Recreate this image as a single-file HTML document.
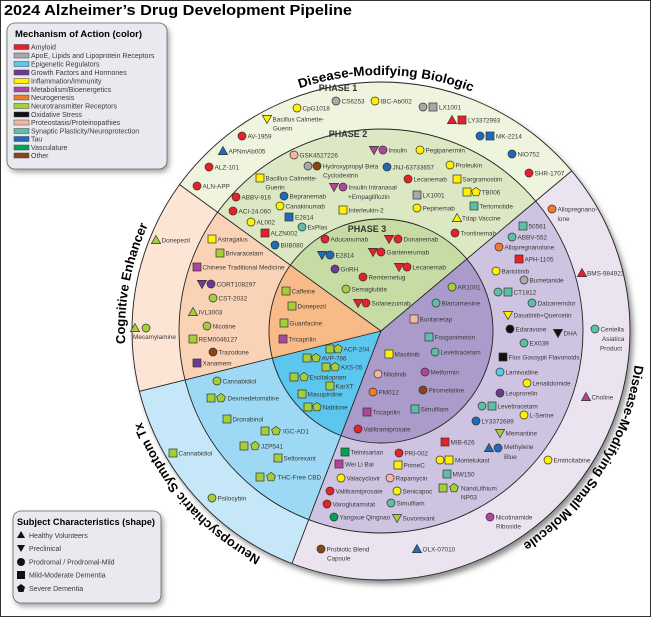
<!DOCTYPE html>
<html><head><meta charset="utf-8"><style>
html,body{margin:0;padding:0;background:#fff}
svg{display:block}
.l{font-family:"Liberation Sans",sans-serif;font-size:6.4px;fill:#3a3a3a}
.h{font-family:"Liberation Sans",sans-serif;font-weight:bold;fill:#000}
.ph{font-family:"Liberation Sans",sans-serif;font-weight:bold;font-size:9px;fill:#333}
</style></head><body>
<svg width="651" height="617" viewBox="0 0 651 617" xmlns="http://www.w3.org/2000/svg">
<defs>
<circle id="c" r="4" stroke="#333" stroke-width=".7"/>
<rect id="s" x="-4" y="-4" width="8" height="8" stroke="#333" stroke-width=".7"/>
<path id="t" d="M0,-4.5L4.6,3.6L-4.6,3.6Z" stroke="#333" stroke-width=".7"/>
<path id="v" d="M-4.6,-3.6L4.6,-3.6L0,4.5Z" stroke="#333" stroke-width=".7"/>
<path id="p" d="M0,-4.6L4.4,-1.4L2.7,3.8L-2.7,3.8L-4.4,-1.4Z" stroke="#333" stroke-width=".7"/>
<filter id="sh" x="-10%" y="-10%" width="120%" height="120%"><feGaussianBlur stdDeviation="3"/></filter>
<path id="arc" d="M637,331 A256,256 0 1 1 125,331 A256,256 0 1 1 637,331"/>
</defs>
<rect x="0.5" y="0.5" width="650" height="616" fill="#fff" stroke="#333"/>
<text class="h" x="4" y="15" font-size="15" textLength="348" lengthAdjust="spacingAndGlyphs">2024 Alzheimer’s Drug Development Pipeline</text>

<circle cx="384" cy="335" r="249" fill="#888" filter="url(#sh)"/>
<!-- phase 1 -->
<path d="M381,331L179.6,184.6A249,249 0 0 1 571.7,170.9Z" fill="#eef4dd"/>
<path d="M381,331L571.7,170.9A249,249 0 0 1 291.9,563.6Z" fill="#ebe4f0"/>
<path d="M381,331L291.9,563.6A249,249 0 0 1 139.5,391.3Z" fill="#c5e7f7"/>
<path d="M381,331L139.5,391.3A249,249 0 0 1 179.6,184.6Z" fill="#fde5d5"/>
<!-- phase 2 -->
<path d="M381,331L217.6,212.2A202,202 0 0 1 535.7,201.1Z" fill="#dce8c4"/>
<path d="M381,331L535.7,201.1A202,202 0 0 1 308.7,519.7Z" fill="#cec3e0"/>
<path d="M381,331L308.7,519.7A202,202 0 0 1 185,379.9Z" fill="#9dd9f4"/>
<path d="M381,331L185,379.9A202,202 0 0 1 217.6,212.2Z" fill="#fad2b6"/>
<!-- phase 3 -->
<path d="M381,331L290.4,265.1A112,112 0 0 1 466.8,259Z" fill="#c6dca4"/>
<path d="M381,331L466.8,259A112,112 0 0 1 340.9,435.6Z" fill="#ab9bcb"/>
<path d="M381,331L340.9,435.6A112,112 0 0 1 272.4,358.1Z" fill="#5bc6ee"/>
<path d="M381,331L272.4,358.1A112,112 0 0 1 290.4,265.1Z" fill="#f8bb88"/>
<g fill="none" stroke="#222" stroke-width=".9">
<circle cx="381" cy="331" r="249"/><circle cx="381" cy="331" r="202"/><circle cx="381" cy="331" r="112"/>
<path d="M381,331L179.6,184.6M381,331L571.7,170.9M381,331L291.9,563.6M381,331L139.5,391.3"/>
</g>

<g class="h" font-size="13">
<text><textPath href="#arc" startOffset="1211" text-anchor="middle" textLength="176" lengthAdjust="spacingAndGlyphs">Disease-Modifying Biologic</textPath></text>
<text><textPath href="#arc" startOffset="852" text-anchor="middle" textLength="122" lengthAdjust="spacingAndGlyphs">Cognitive Enhancer</textPath></text>
<text><textPath href="#arc" startOffset="619" text-anchor="middle" textLength="184" lengthAdjust="spacingAndGlyphs">Neuropsychiatric Symptom Tx</textPath></text>
<text><textPath href="#arc" startOffset="143" text-anchor="middle" textLength="218" lengthAdjust="spacingAndGlyphs">Disease-Modifying Small Molecule</textPath></text>
</g>
<text class="ph" x="338" y="91" text-anchor="middle">PHASE 1</text>
<text class="ph" x="348" y="137" text-anchor="middle">PHASE 2</text>
<text class="ph" x="367" y="232" text-anchor="middle">PHASE 3</text>

<!-- Biologic phase 1 -->
<use href="#c" x="297" y="108" fill="#fff200"/><text class="l" x="302.5" y="110.3">CpG1018</text>
<use href="#v" x="267" y="119" fill="#fff200"/><text class="l" x="272.5" y="121.3">Bacillus Calmette-</text><text class="l" x="273" y="130.3">Guerin</text>
<use href="#c" x="242" y="136" fill="#e8202a"/><text class="l" x="247.5" y="138.3">AV-1959</text>
<use href="#t" x="223" y="151" fill="#1e6bb8"/><text class="l" x="228.5" y="153.3">APNmAb005</text>
<use href="#c" x="209" y="167" fill="#e8202a"/><text class="l" x="214.5" y="169.3">ALZ-101</text>
<use href="#c" x="197" y="186" fill="#e8202a"/><text class="l" x="202.5" y="188.3">ALN-APP</text>
<use href="#c" x="336" y="101" fill="#a7a9ac"/><text class="l" x="341.5" y="103.3">CS6253</text>
<use href="#c" x="375" y="101" fill="#fff200"/><text class="l" x="380.5" y="103.3">IBC-Ab002</text>
<use href="#c" x="423" y="107" fill="#a7a9ac"/><use href="#s" x="433" y="107" fill="#a7a9ac"/><text class="l" x="439" y="109.3">LX1001</text>
<use href="#t" x="452" y="120" fill="#e8202a"/><use href="#s" x="462" y="120" fill="#e8202a"/><text class="l" x="468" y="122.3">LY3372993</text>
<use href="#c" x="480" y="136" fill="#1e6bb8"/><use href="#s" x="490" y="136" fill="#1e6bb8"/><text class="l" x="496" y="138.3">MK-2214</text>
<use href="#c" x="512" y="154" fill="#1e6bb8"/><text class="l" x="517.5" y="156.3">NIO752</text>
<use href="#c" x="529" y="173" fill="#e8202a"/><text class="l" x="534.5" y="175.3">SHR-1707</text>

<!-- Biologic phase 2 -->
<use href="#c" x="294" y="155" fill="#f5b7a5"/><text class="l" x="299.5" y="157.3">GSK4527226</text>
<use href="#c" x="308" y="166" fill="#a7a9ac"/><use href="#c" x="317" y="166" fill="#8b4513"/><text class="l" x="322.5" y="168.3">Hydroxypropyl Beta</text><text class="l" x="323" y="177.3">Cyclodextrin</text>
<use href="#s" x="260" y="178" fill="#fff200"/><text class="l" x="265.5" y="180.3">Bacillus Calmette-</text><text class="l" x="265.5" y="189.3">Guerin</text>
<use href="#c" x="236" y="197" fill="#e8202a"/><text class="l" x="241.5" y="199.3">ABBV-916</text>
<use href="#c" x="284" y="196" fill="#1e6bb8"/><text class="l" x="289.5" y="198.3">Bepranemab</text>
<use href="#c" x="233" y="211" fill="#e8202a"/><text class="l" x="238.5" y="213.3">ACI-24.060</text>
<use href="#c" x="280" y="206" fill="#fff200"/><text class="l" x="285.5" y="208.3">Canakinumab</text>
<use href="#c" x="251" y="222" fill="#fff200"/><text class="l" x="256.5" y="224.3">AL002</text>
<use href="#s" x="289" y="217" fill="#1e6bb8"/><text class="l" x="295" y="219.3">E2814</text>
<use href="#c" x="302" y="227" fill="#5dbfa8"/><text class="l" x="307.5" y="229.3">ExPlas</text>
<use href="#s" x="265" y="233" fill="#e8202a"/><text class="l" x="270.5" y="235.3">ALZN002</text>
<use href="#c" x="275" y="245" fill="#1e6bb8"/><text class="l" x="280.5" y="247.3">BIIB080</text>
<use href="#v" x="374" y="150" fill="#b0469a"/><use href="#c" x="383" y="150" fill="#b0469a"/><text class="l" x="388.5" y="152.3">Insulin</text>
<use href="#c" x="420" y="150" fill="#fff200"/><text class="l" x="425.5" y="152.3">Pegipanermin</text>
<use href="#c" x="387" y="167" fill="#1e6bb8"/><text class="l" x="392.5" y="169.3">JNJ-63733657</text>
<use href="#c" x="450" y="165" fill="#fff200"/><text class="l" x="455.5" y="167.3">Proleukin</text>
<use href="#v" x="334" y="187" fill="#b0469a"/><use href="#c" x="343" y="187" fill="#b0469a"/><text class="l" x="348.5" y="189.3">Insulin Intranasal</text><text class="l" x="348" y="199">+Empagliflozin</text>
<use href="#c" x="408" y="179" fill="#e8202a"/><text class="l" x="413.5" y="181.3">Lecanemab</text>
<use href="#s" x="457" y="179" fill="#fff200"/><text class="l" x="462.5" y="181.3">Sargramostim</text>
<use href="#s" x="417" y="195" fill="#a7a9ac"/><text class="l" x="422.5" y="197.3">LX1001</text>
<use href="#s" x="467" y="192" fill="#fff200"/><use href="#p" x="476" y="192" fill="#fff200"/><text class="l" x="481.5" y="194.3">TB006</text>
<use href="#s" x="343" y="210" fill="#fff200"/><text class="l" x="348.5" y="212.3">Interleukin-2</text>
<use href="#c" x="417" y="208" fill="#fff200"/><text class="l" x="422.5" y="210.3">Pepinemab</text>
<use href="#s" x="474" y="206" fill="#5dbfa8"/><text class="l" x="479.5" y="208.3">Tertomotide</text>
<use href="#t" x="457" y="218" fill="#fff200"/><text class="l" x="462" y="220.3">Tdap Vaccine</text>
<use href="#c" x="455" y="233" fill="#e8202a"/><text class="l" x="460.5" y="235.3">Trontinemab</text>

<!-- Biologic phase 3 -->
<use href="#c" x="325" y="239" fill="#e8202a"/><text class="l" x="330.5" y="241.3">Aducanumab</text>
<use href="#v" x="389" y="239" fill="#e8202a"/><use href="#c" x="398" y="239" fill="#e8202a"/><text class="l" x="403.5" y="241.3">Donanemab</text>
<use href="#v" x="322" y="255" fill="#1e6bb8"/><use href="#c" x="330" y="255" fill="#1e6bb8"/><text class="l" x="335.5" y="257.3">E2814</text>
<use href="#v" x="373" y="252" fill="#e8202a"/><use href="#c" x="381" y="252" fill="#e8202a"/><text class="l" x="386.5" y="254.3">Gantenerumab</text>
<use href="#c" x="335" y="269" fill="#6b3a96"/><text class="l" x="340.5" y="271.3">GnRH</text>
<use href="#v" x="399" y="267" fill="#e8202a"/><use href="#c" x="407" y="267" fill="#e8202a"/><text class="l" x="412.5" y="269.3">Lecanemab</text>
<use href="#c" x="363" y="277" fill="#e8202a"/><text class="l" x="368.5" y="279.3">Remternetug</text>
<use href="#c" x="346" y="289" fill="#a6ce39"/><text class="l" x="351.5" y="291.3">Semaglutide</text>
<use href="#v" x="358" y="303" fill="#e8202a"/><use href="#c" x="366" y="303" fill="#e8202a"/><text class="l" x="371.5" y="305.3">Solanezumab</text>

<!-- Cognitive -->
<use href="#t" x="156" y="240" fill="#a6ce39"/><text class="l" x="161.5" y="242.3">Donepezil</text>
<use href="#t" x="135" y="328" fill="#a6ce39"/><use href="#c" x="146" y="328" fill="#a6ce39"/><text class="l" x="133" y="339">Mecamylamine</text>
<use href="#s" x="212" y="239" fill="#fff200"/><text class="l" x="217.5" y="241.3">Astragalus</text>
<use href="#s" x="220" y="253" fill="#a6ce39"/><text class="l" x="225.5" y="255.3">Brivaracetam</text>
<use href="#s" x="197" y="267" fill="#b0469a"/><text class="l" x="202.5" y="269.3">Chinese Traditional Medicine</text>
<use href="#v" x="202" y="284" fill="#6b3a96"/><use href="#c" x="211" y="284" fill="#6b3a96"/><text class="l" x="216.5" y="286.3">CORT108297</text>
<use href="#c" x="213" y="298" fill="#a6ce39"/><text class="l" x="218.5" y="300.3">CST-2032</text>
<use href="#t" x="193" y="312" fill="#a6ce39"/><text class="l" x="198.5" y="314.3">IVL3003</text>
<use href="#c" x="207" y="326" fill="#a6ce39"/><text class="l" x="212.5" y="328.3">Nicotine</text>
<use href="#s" x="193" y="339" fill="#a6ce39"/><text class="l" x="198.5" y="341.3">REM0046127</text>
<use href="#c" x="213" y="352" fill="#8b4513"/><text class="l" x="218.5" y="354.3">Trazodone</text>
<use href="#s" x="197" y="363" fill="#6b3a96"/><text class="l" x="202.5" y="365.3">Xanamem</text>
<use href="#s" x="286" y="291" fill="#a6ce39"/><text class="l" x="291.5" y="293.3">Caffeine</text>
<use href="#s" x="292" y="306" fill="#a6ce39"/><text class="l" x="297.5" y="308.3">Donepezil</text>
<use href="#s" x="284" y="323" fill="#a6ce39"/><text class="l" x="289.5" y="325.3">Guanfacine</text>
<use href="#s" x="283" y="339" fill="#b0469a"/><text class="l" x="288.5" y="341.3">Tricaprilin</text>

<!-- Neuropsych -->
<use href="#s" x="173" y="453" fill="#a6ce39"/><text class="l" x="178.5" y="455.3">Cannabidiol</text>
<use href="#c" x="212" y="498" fill="#a6ce39"/><text class="l" x="217.5" y="500.3">Psilocybin</text>
<use href="#c" x="217" y="381" fill="#a6ce39"/><text class="l" x="222.5" y="383.3">Cannabidiol</text>
<use href="#s" x="211" y="398" fill="#a6ce39"/><use href="#p" x="221" y="398" fill="#a6ce39"/><text class="l" x="227.5" y="400.3">Dexmedetomidine</text>
<use href="#s" x="227" y="419" fill="#a6ce39"/><text class="l" x="232.5" y="421.3">Dronabinol</text>
<use href="#s" x="265" y="431" fill="#a6ce39"/><use href="#p" x="276" y="431" fill="#a6ce39"/><text class="l" x="283" y="433.3">IGC-AD1</text>
<use href="#s" x="244" y="446" fill="#a6ce39"/><use href="#p" x="255" y="446" fill="#a6ce39"/><text class="l" x="261" y="448.3">JZP541</text>
<use href="#s" x="278" y="458" fill="#a6ce39"/><text class="l" x="283.5" y="460.3">Seltorexant</text>
<use href="#s" x="260" y="477" fill="#a6ce39"/><use href="#p" x="271" y="477" fill="#a6ce39"/><text class="l" x="277.5" y="479.3">THC-Free CBD</text>
<use href="#s" x="330" y="349" fill="#a6ce39"/><use href="#p" x="338" y="349" fill="#a6ce39"/><text class="l" x="343.5" y="351.3">ACP-204</text>
<use href="#s" x="307" y="358" fill="#a6ce39"/><use href="#p" x="316" y="358" fill="#a6ce39"/><text class="l" x="321.5" y="360.3">AVP-786</text>
<use href="#s" x="326" y="367" fill="#a6ce39"/><use href="#p" x="335" y="367" fill="#a6ce39"/><text class="l" x="340.5" y="369.3">AXS-05</text>
<use href="#s" x="294" y="377" fill="#a6ce39"/><use href="#p" x="304" y="377" fill="#a6ce39"/><text class="l" x="309.5" y="379.3">Escitalopram</text>
<use href="#s" x="330" y="386" fill="#a6ce39"/><text class="l" x="335.5" y="388.3">KarXT</text>
<use href="#s" x="302" y="394" fill="#a6ce39"/><text class="l" x="307.5" y="396.3">Masupirdine</text>
<use href="#s" x="308" y="407" fill="#a6ce39"/><use href="#p" x="317" y="407" fill="#a6ce39"/><text class="l" x="322.5" y="409.3">Nabilone</text>

<!-- Small molecule phase 3 -->
<use href="#c" x="452" y="287" fill="#a6ce39"/><text class="l" x="457.5" y="289.3">AR1001</text>
<use href="#c" x="436" y="303" fill="#5dbfa8"/><text class="l" x="441.5" y="305.3">Blarcamesine</text>
<use href="#s" x="414" y="319" fill="#f5b7a5"/><text class="l" x="419.5" y="321.3">Buntanetap</text>
<use href="#s" x="429" y="337" fill="#5dbfa8"/><text class="l" x="434.5" y="339.3">Fosgonimeton</text>
<use href="#s" x="389" y="354" fill="#fff200"/><text class="l" x="394.5" y="356.3">Masitinib</text>
<use href="#c" x="435" y="352" fill="#5dbfa8"/><text class="l" x="440.5" y="354.3">Levetiracetam</text>
<use href="#c" x="378" y="374" fill="#f5b7a5"/><text class="l" x="383.5" y="376.3">Nilotinib</text>
<use href="#c" x="425" y="372" fill="#b0469a"/><text class="l" x="430.5" y="374.3">Metformin</text>
<use href="#c" x="373" y="392" fill="#f07b2a"/><text class="l" x="378.5" y="394.3">PM012</text>
<use href="#c" x="423" y="390" fill="#8b4513"/><text class="l" x="428.5" y="392.3">Piromelatine</text>
<use href="#s" x="367" y="412" fill="#b0469a"/><text class="l" x="372.5" y="414.3">Tricaprilin</text>
<use href="#s" x="415" y="409" fill="#5dbfa8"/><text class="l" x="420.5" y="411.3">Simufilam</text>
<use href="#c" x="358" y="429" fill="#e8202a"/><text class="l" x="363.5" y="431.3">Valiltramiprosate</text>

<!-- Small molecule phase 2 -->
<use href="#s" x="523" y="226" fill="#5dbfa8"/><text class="l" x="528.5" y="228.3">50561</text>
<use href="#c" x="512" y="237" fill="#5dbfa8"/><text class="l" x="517.5" y="239.3">ABBV-552</text>
<use href="#c" x="499" y="247" fill="#f07b2a"/><text class="l" x="504.5" y="249.3">Allopregnanolone</text>
<use href="#s" x="519" y="259" fill="#e8202a"/><text class="l" x="524.5" y="261.3">APH-1105</text>
<use href="#c" x="496" y="271" fill="#fff200"/><text class="l" x="501.5" y="273.3">Baricitinib</text>
<use href="#c" x="524" y="280" fill="#a7a9ac"/><text class="l" x="529.5" y="282.3">Bumetanide</text>
<use href="#c" x="498" y="292" fill="#5dbfa8"/><use href="#s" x="508" y="292" fill="#5dbfa8"/><text class="l" x="513.5" y="294.3">CT1812</text>
<use href="#c" x="532" y="303" fill="#5dbfa8"/><text class="l" x="537.5" y="305.3">Dalzanemdor</text>
<use href="#v" x="508" y="315" fill="#fff200"/><text class="l" x="513.5" y="317.3">Dasatinib+Quercetin</text>
<use href="#c" x="510" y="329" fill="#111"/><text class="l" x="515.5" y="331.3">Edaravone</text>
<use href="#v" x="558" y="333" fill="#111"/><text class="l" x="563.5" y="335.3">DHA</text>
<use href="#c" x="524" y="343" fill="#5dbfa8"/><text class="l" x="529.5" y="345.3">EX039</text>
<use href="#s" x="503" y="357" fill="#111"/><text class="l" x="508.5" y="359.3">Flos Gossypii Flavonoids</text>
<use href="#c" x="500" y="372" fill="#5bc8f0"/><text class="l" x="505.5" y="374.3">Lamivudine</text>
<use href="#c" x="527" y="383" fill="#fff200"/><text class="l" x="532.5" y="385.3">Lenalidomide</text>
<use href="#c" x="500" y="393" fill="#6b3a96"/><text class="l" x="505.5" y="395.3">Leuprorelin</text>
<use href="#c" x="482" y="406" fill="#5dbfa8"/><use href="#s" x="492" y="406" fill="#5dbfa8"/><text class="l" x="497.5" y="408.3">Levetiracetam</text>
<use href="#c" x="524" y="415" fill="#fff200"/><text class="l" x="529.5" y="417.3">L-Serine</text>
<use href="#c" x="476" y="421" fill="#1e6bb8"/><text class="l" x="481.5" y="423.3">LY3372689</text>
<use href="#v" x="500" y="433" fill="#a6ce39"/><text class="l" x="505.5" y="435.3">Memantine</text>
<use href="#s" x="445" y="442" fill="#e8202a"/><text class="l" x="450.5" y="444.3">MIB-626</text>
<use href="#t" x="489" y="448" fill="#1e6bb8"/><use href="#c" x="498" y="448" fill="#1e6bb8"/><text class="l" x="504" y="449">Methylene</text><text class="l" x="504" y="459">Blue</text>
<use href="#s" x="345" y="452" fill="#00a651"/><text class="l" x="350.5" y="454.3">Telmisartan</text>
<use href="#c" x="399" y="453" fill="#e8202a"/><text class="l" x="404.5" y="455.3">PRI-002</text>
<use href="#c" x="440" y="460" fill="#fff200"/><use href="#s" x="449" y="460" fill="#fff200"/><text class="l" x="455" y="462.3">Montelukast</text>
<use href="#s" x="339" y="464" fill="#b0469a"/><text class="l" x="345" y="466.3">Wei Li Bai</text>
<use href="#s" x="398" y="465" fill="#fff200"/><text class="l" x="403.5" y="467.3">PrimeC</text>
<use href="#s" x="447" y="474" fill="#5dbfa8"/><text class="l" x="452.5" y="476.3">MW150</text>
<use href="#c" x="341" y="478" fill="#fff200"/><text class="l" x="346.5" y="480.3">Valacyclovir</text>
<use href="#c" x="390" y="478" fill="#f5b7a5"/><text class="l" x="395.5" y="480.3">Rapamycin</text>
<use href="#s" x="443" y="488" fill="#a6ce39"/><use href="#p" x="454" y="488" fill="#a6ce39"/><text class="l" x="461" y="490.3">NanoLithium</text><text class="l" x="461" y="499.5">NP03</text>
<use href="#c" x="330" y="491" fill="#e8202a"/><text class="l" x="335.5" y="493.3">Valiltramiprosate</text>
<use href="#c" x="397" y="491" fill="#fff200"/><text class="l" x="402.5" y="493.3">Senicapoc</text>
<use href="#c" x="327" y="504" fill="#e8202a"/><text class="l" x="332.5" y="506.3">Varoglutamstat</text>
<use href="#c" x="391" y="503" fill="#5dbfa8"/><text class="l" x="396.5" y="505.3">Simufilam</text>
<use href="#c" x="334" y="517" fill="#00a651"/><text class="l" x="339.5" y="519.3">Yangxue Qingnao</text>
<use href="#v" x="397" y="518" fill="#a6ce39"/><text class="l" x="402.5" y="520.3">Suvorexant</text>

<!-- Small molecule phase 1 -->
<use href="#c" x="552" y="209" fill="#f07b2a"/><text class="l" x="557.5" y="211.3">Allopregnano-</text><text class="l" x="557.5" y="221">lone</text>
<use href="#t" x="582" y="273" fill="#e8202a"/><text class="l" x="587" y="275.3">BMS-984923</text>
<use href="#c" x="595" y="329" fill="#5dbfa8"/><text class="l" x="600.5" y="331.3">Centella</text><text class="l" x="602" y="341">Asiatica</text><text class="l" x="600" y="350.5">Product</text>
<use href="#t" x="586" y="397" fill="#b0469a"/><text class="l" x="591.5" y="399.3">Choline</text>
<use href="#c" x="548" y="460" fill="#fff200"/><text class="l" x="553.5" y="462.3">Emtricitabine</text>
<use href="#c" x="490" y="517" fill="#b0469a"/><text class="l" x="495.5" y="519.3">Nicotinamide</text><text class="l" x="496" y="528.5">Riboside</text>
<use href="#c" x="321" y="549" fill="#8b4513"/><text class="l" x="326.5" y="551.3">Probiotic Blend</text><text class="l" x="327" y="560.5">Capsule</text>
<use href="#t" x="417" y="549" fill="#1e6bb8"/><text class="l" x="422.5" y="551.3">OLX-07010</text>

<!-- Legend 1 -->
<rect x="9" y="26" width="160" height="146" rx="8" fill="#999" filter="url(#sh)"/>
<rect x="7" y="23" width="160" height="146" rx="8" fill="#e9eaf0" stroke="#666" stroke-width=".8"/>
<text class="h" x="15" y="37" font-size="9" fill="#222" textLength="127" lengthAdjust="spacingAndGlyphs">Mechanism of Action (color)</text>
<g stroke="#444" stroke-width=".5">
<rect x="14" y="44.5" width="15" height="5" fill="#e8202a"/>
<rect x="14" y="53" width="15" height="5" fill="#a7a9ac"/>
<rect x="14" y="61.5" width="15" height="5" fill="#5bc8f0"/>
<rect x="14" y="70" width="15" height="5" fill="#6b3a96"/>
<rect x="14" y="78.5" width="15" height="5" fill="#fff200"/>
<rect x="14" y="87" width="15" height="5" fill="#b0469a"/>
<rect x="14" y="95" width="15" height="5" fill="#f07b2a"/>
<rect x="14" y="103.5" width="15" height="5" fill="#a6ce39"/>
<rect x="14" y="112" width="15" height="5" fill="#111"/>
<rect x="14" y="120" width="15" height="5" fill="#f5b7a5"/>
<rect x="14" y="128.5" width="15" height="5" fill="#5dbfa8"/>
<rect x="14" y="136.5" width="15" height="5" fill="#1e6bb8"/>
<rect x="14" y="145" width="15" height="5" fill="#00a651"/>
<rect x="14" y="153" width="15" height="5" fill="#8b4513"/>
</g>
<g class="l" font-size="7">
<text x="31" y="49.5" font-size="7">Amyloid</text>
<text x="31" y="58" font-size="7">ApoE, Lipids and Lipoprotein Receptors</text>
<text x="31" y="66.5" font-size="7">Epigenetic Regulators</text>
<text x="31" y="75" font-size="7">Growth Factors and Hormones</text>
<text x="31" y="83.5" font-size="7">Inflammation/Immunity</text>
<text x="31" y="92" font-size="7">Metabolism/Bioenergetics</text>
<text x="31" y="100" font-size="7">Neurogenesis</text>
<text x="31" y="108.5" font-size="7">Neurotransmitter Receptors</text>
<text x="31" y="117" font-size="7">Oxidative Stress</text>
<text x="31" y="125" font-size="7">Proteostasis/Proteinopathies</text>
<text x="31" y="133.5" font-size="7">Synaptic Plasticity/Neuroprotection</text>
<text x="31" y="141.5" font-size="7">Tau</text>
<text x="31" y="150" font-size="7">Vasculature</text>
<text x="31" y="158" font-size="7">Other</text>
</g>

<!-- Legend 2 -->
<rect x="15" y="514" width="148" height="92" rx="8" fill="#999" filter="url(#sh)"/>
<rect x="13" y="511" width="148" height="92" rx="8" fill="#e9eaf0" stroke="#666" stroke-width=".8"/>
<text class="h" x="17" y="525" font-size="9" fill="#222" textLength="138" lengthAdjust="spacingAndGlyphs">Subject Characteristics (shape)</text>
<g fill="#111">
<path d="M21,531L25,538L17,538Z"/>
<path d="M17,545L25,545L21,552Z"/>
<circle cx="21" cy="562" r="4"/>
<rect x="17" y="571" width="8" height="8"/>
<path d="M21,584L25,587L23.5,592L18.5,592L17,587Z"/>
</g>
<g class="l">
<text x="29" y="538" font-size="7">Healthy Volunteers</text>
<text x="29" y="551" font-size="7">Preclinical</text>
<text x="29" y="564.5" font-size="7">Prodromal / Prodromal-Mild</text>
<text x="29" y="577.5" font-size="7">Mild-Moderate Dementia</text>
<text x="29" y="591" font-size="7">Severe Dementia</text>
</g>
</svg>
</body></html>
